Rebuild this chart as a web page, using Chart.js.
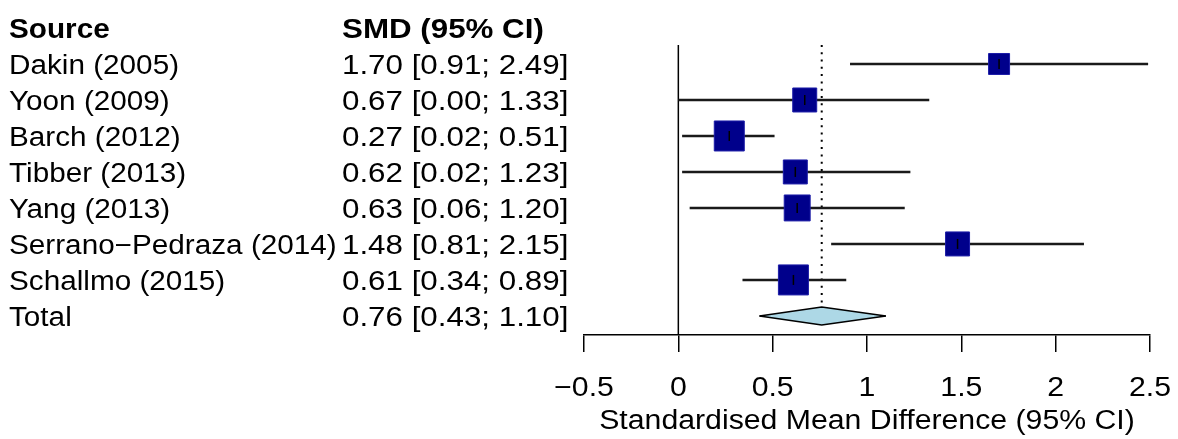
<!DOCTYPE html>
<html>
<head>
<meta charset="utf-8">
<title>Forest plot</title>
<script src="https://cdn.jsdelivr.net/npm/chart.js@4.4.1/dist/chart.umd.min.js"></script>
<style>
  html, body { margin: 0; padding: 0; background: #fff; }
  #wrap { width: 1178px; height: 439px; }
</style>
</head>
<body>
<div id="wrap"><canvas id="forest"></canvas></div>
<script>
// study data
const studies = ['Dakin (2005)', 'Yoon (2009)', 'Barch (2012)', 'Tibber (2013)',
  'Yang (2013)', 'Serrano\u2212Pedraza (2014)', 'Schallmo (2015)']
const smd = [1.70, 0.67, 0.27, 0.62, 0.63, 1.48, 0.61]
const lower = [0.91, 0.00, 0.02, 0.02, 0.06, 0.81, 0.34]
const upper = [2.49, 1.33, 0.51, 1.23, 1.20, 2.15, 0.89]
// approx. weights (%), only used for the box sizes
const weights = [9.5, 12.4, 19.4, 12.4, 14.5, 12.4, 19.4]

const totalLabel = 'Total'
const totalSmd = 0.76
const totalLower = 0.43
const totalUpper = 1.10

const xTicks = [-0.5, 0, 0.5, 1, 1.5, 2, 2.5]

const fmt = v => v.toFixed(2)
const ciText = (m, lo, hi) => `${fmt(m)} [${fmt(lo)}; ${fmt(hi)}]`

// rows: 0 = header, 1..n = studies, n+1 = total
const totalRow = studies.length + 1
const FONT = 'Liberation Sans, Arial, Helvetica, sans-serif'

// the original text is a bit wider than a plain Helvetica at that height
function stretchText(ctx, text, x, y, sx, align) {
  ctx.save()
  ctx.translate(x, y)
  ctx.scale(sx, 1)
  ctx.textAlign = align || 'left'
  ctx.fillText(text, 0, 0)
  ctx.restore()
}

const tablePlugin = {
  id: 'forestText',
  afterDraw(chart) {
    const {ctx, scales: {x, y}, chartArea} = chart
    ctx.save()
    ctx.fillStyle = '#000'
    ctx.textBaseline = 'alphabetic'

    const base = row => y.getPixelForValue(row) + 9.7
    ctx.font = 'bold 27px ' + FONT
    stretchText(ctx, 'Source', 9, base(0), 1.10)
    stretchText(ctx, 'SMD (95% CI)', 342, base(0), 1.16)

    ctx.font = '27px ' + FONT
    studies.forEach((s, i) => {
      stretchText(ctx, s, 9, base(i + 1), 1.10)
      stretchText(ctx, ciText(smd[i], lower[i], upper[i]), 342, base(i + 1), 1.16)
    })
    stretchText(ctx, totalLabel, 9, base(totalRow), 1.10)
    stretchText(ctx, ciText(totalSmd, totalLower, totalUpper), 342, base(totalRow), 1.16)

    // x axis labels
    x.ticks.forEach(t => {
      const label = String(t.value).replace('-', '\u2212')
      stretchText(ctx, label, x.getPixelForValue(t.value), 396, 1.12, 'center')
    })
    stretchText(ctx, 'Standardised Mean Difference (95% CI)',
      (chartArea.left + chartArea.right) / 2, 429, 1.12, 'center')
    ctx.restore()
  }
}

const datasets = []

// confidence intervals
studies.forEach((s, i) => {
  datasets.push({
    type: 'line',
    data: [{x: lower[i], y: i + 1}, {x: upper[i], y: i + 1}],
    borderColor: '#1a1a1a',
    borderWidth: 2.5,
    pointRadius: 0,
    order: 5
  })
})

// boxes, size ~ sqrt(weight)
const maxW = Math.max(...weights)
datasets.push({
  type: 'scatter',
  data: smd.map((v, i) => ({x: v, y: i + 1})),
  pointStyle: 'rect',
  pointRadius: weights.map(w => 30 * Math.sqrt(w / maxW) / Math.SQRT2),
  backgroundColor: '#00008B',
  borderColor: '#1c1ca8',
  borderWidth: 1,
  order: 2
})

// small vertical mark at each estimate
datasets.push({
  type: 'scatter',
  data: smd.map((v, i) => ({x: v, y: i + 1})),
  pointStyle: 'line',
  rotation: 90,
  pointRadius: 5,
  borderColor: '#000',
  borderWidth: 1.5,
  order: 1
})

// line of no effect
datasets.push({
  type: 'line',
  data: [{x: 0, y: 0.47}, {x: 0, y: 8.6}],
  borderColor: '#000',
  borderWidth: 1.5,
  pointRadius: 0,
  order: 6
})

// pooled estimate, dotted
datasets.push({
  type: 'line',
  data: [{x: totalSmd, y: 0.47}, {x: totalSmd, y: totalRow - 0.25}],
  borderColor: '#000',
  borderWidth: 2,
  borderDash: [2, 5.3],
  pointRadius: 0,
  order: 6
})

// diamond = top half + bottom half filled between
const diamondTopIdx = datasets.length
datasets.push({
  type: 'line',
  data: [{x: totalLower, y: totalRow}, {x: totalSmd, y: totalRow - 0.25}, {x: totalUpper, y: totalRow}],
  borderColor: '#000',
  borderWidth: 1.5,
  pointRadius: 0,
  tension: 0,
  order: 3
})
datasets.push({
  type: 'line',
  data: [{x: totalLower, y: totalRow}, {x: totalSmd, y: totalRow + 0.25}, {x: totalUpper, y: totalRow}],
  borderColor: '#000',
  borderWidth: 1.5,
  backgroundColor: '#ADD8E6',
  fill: diamondTopIdx,
  pointRadius: 0,
  tension: 0,
  order: 4
})

new Chart(document.getElementById('forest'), {
  type: 'line',
  data: {datasets},
  options: {
    responsive: true,
    maintainAspectRatio: false,
    animation: false,
    layout: {autoPadding: false, padding: {left: 584, right: 28, top: 10, bottom: 87}},
    plugins: {
      legend: {display: false},
      tooltip: {enabled: false}
    },
    scales: {
      x: {
        type: 'linear',
        min: xTicks[0],
        max: xTicks[xTicks.length - 1],
        afterBuildTicks: scale => { scale.ticks = xTicks.map(v => ({value: v})) },
        ticks: {display: false},
        grid: {drawOnChartArea: false, drawTicks: true, tickLength: 17, color: '#000', lineWidth: 1.5},
        border: {display: true, color: '#000', width: 1.5}
      },
      y: {
        type: 'linear',
        display: false,
        reverse: true,
        min: -0.5,
        max: 8.53
      }
    }
  },
  plugins: [tablePlugin]
})
</script>
</body>
</html>
